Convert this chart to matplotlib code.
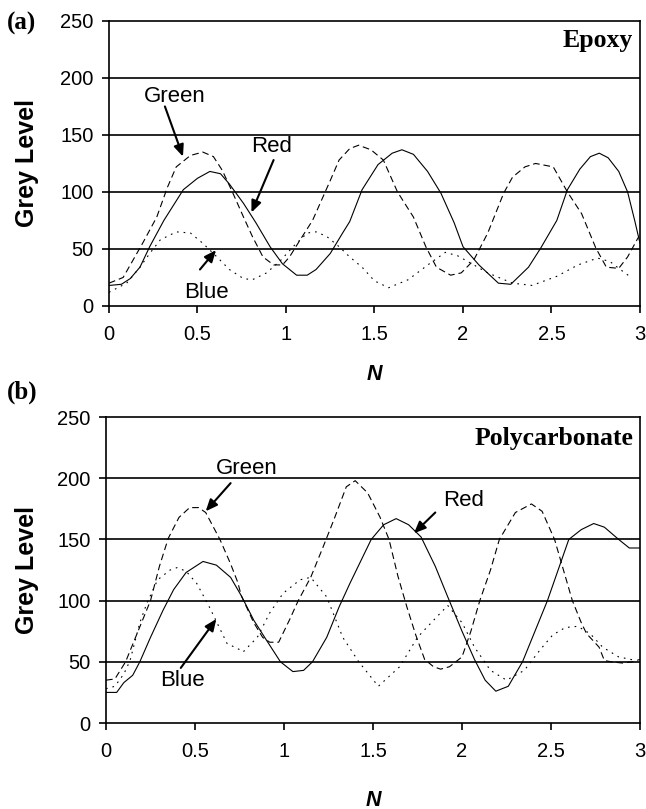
import matplotlib
matplotlib.use('Agg')
import matplotlib.pyplot as plt

# Panel (a) Epoxy
epoxy_red_n = [0, 0.07, 0.12, 0.175, 0.23, 0.31, 0.42, 0.50, 0.57, 0.63, 0.68, 0.76, 0.83, 0.91,
               0.98, 1.06, 1.12, 1.17, 1.25, 1.32, 1.36, 1.43, 1.52, 1.60, 1.655, 1.72, 1.80,
               1.875, 1.95, 2.0, 2.09, 2.20, 2.27, 2.37, 2.44, 2.53, 2.59, 2.66, 2.72, 2.77,
               2.82, 2.88, 2.93, 2.97, 3.0]
epoxy_red = [18, 19, 24, 34, 52, 75, 102, 112, 118, 116, 107, 90, 73, 52,
             37, 27, 27, 32, 46, 64, 74, 102, 124, 134, 137, 133, 118,
             99, 73, 52, 36, 20, 19, 34, 51, 75, 102, 120, 131, 134,
             130, 118, 100, 75, 55]

epoxy_green_n = [0, 0.08, 0.135, 0.19, 0.27, 0.33, 0.38, 0.46, 0.53, 0.59, 0.64, 0.70, 0.76,
                 0.81, 0.87, 0.93, 0.98, 1.02, 1.08, 1.15, 1.21, 1.25, 1.30, 1.36, 1.41, 1.48,
                 1.55, 1.63, 1.72, 1.79, 1.85, 1.93, 1.99, 2.06, 2.14, 2.23, 2.28, 2.35, 2.41,
                 2.51, 2.59, 2.67, 2.75, 2.81, 2.88, 2.93, 2.99]
epoxy_green = [20, 25, 40, 55, 78, 104, 122, 132, 135, 131, 119, 99, 78,
               61, 43, 36, 36, 43, 58, 75, 96, 110, 128, 138, 141, 137,
               128, 100, 78, 52, 34, 27, 29, 40, 64, 99, 113, 122, 125,
               122, 100, 81, 51, 34, 33, 43, 60]

epoxy_blue_n = [0, 0.10, 0.175, 0.23, 0.29, 0.38, 0.46, 0.53, 0.61, 0.68, 0.76, 0.81, 0.89,
                0.97, 1.04, 1.12, 1.17, 1.23, 1.30, 1.36, 1.43, 1.50, 1.58, 1.69, 1.81, 1.90,
                1.97, 2.05, 2.14, 2.28, 2.39, 2.53, 2.65, 2.76, 2.83, 2.88, 2.95]
epoxy_blue = [12, 20, 34, 46, 58, 65, 64, 55, 43, 32, 24, 23, 29,
              40, 52, 64, 65, 61, 52, 43, 34, 22, 16, 23, 37, 47,
              44, 37, 29, 20, 18, 26, 36, 42, 39, 33, 25]

# Panel (b) Polycarbonate
poly_red_n = [0, 0.06, 0.10, 0.15, 0.19, 0.25, 0.32, 0.38, 0.45, 0.545, 0.62, 0.70, 0.76, 0.83,
              0.90, 0.98, 1.05, 1.11, 1.16, 1.24, 1.31, 1.37, 1.49, 1.56, 1.63, 1.70, 1.77,
              1.85, 1.92, 2.0, 2.07, 2.13, 2.19, 2.26, 2.34, 2.48, 2.60, 2.67, 2.74, 2.80,
              2.88, 2.94, 3.0]
poly_red = [25, 25, 33, 39, 50, 70, 92, 109, 123, 132, 129, 119, 104, 84,
            68, 50, 42, 43, 50, 70, 95, 114, 150, 162, 167, 162, 152,
            128, 103, 75, 52, 35, 26, 30, 50, 100, 150, 158, 163, 160,
            150, 143, 143]

poly_green_n = [0, 0.05, 0.11, 0.18, 0.25, 0.30, 0.35, 0.41, 0.47, 0.52, 0.56, 0.64, 0.70,
                0.74, 0.76, 0.83, 0.88, 0.92, 0.97, 1.03, 1.08, 1.15, 1.22, 1.28, 1.35, 1.40,
                1.47, 1.54, 1.59, 1.64, 1.69, 1.74, 1.79, 1.84, 1.88, 1.93, 2.0, 2.05, 2.10,
                2.16, 2.21, 2.30, 2.39, 2.45, 2.52, 2.57, 2.62, 2.67, 2.70, 2.77, 2.80, 2.84,
                2.90, 2.96, 3.0]
poly_green = [35, 36, 50, 75, 100, 128, 151, 168, 176, 176, 172, 150, 130,
              115, 104, 82, 70, 66, 66, 84, 100, 119, 144, 166, 193, 198,
              188, 168, 150, 120, 95, 72, 52, 46, 44, 46, 54, 75, 100,
              125, 150, 172, 179, 173, 150, 125, 100, 82, 73, 62, 51, 50,
              49, 50, 52]

poly_blue_n = [0, 0.05, 0.10, 0.135, 0.19, 0.23, 0.29, 0.36, 0.40, 0.45, 0.51, 0.58, 0.68,
               0.75, 0.77, 0.85, 0.92, 0.995, 1.09, 1.15, 1.24, 1.33, 1.42, 1.53, 1.65, 1.75,
               1.86, 1.92, 2.0, 2.07, 2.16, 2.25, 2.35, 2.44, 2.51, 2.58, 2.65, 2.72, 2.79,
               2.88, 2.98]
poly_blue = [28, 30, 40, 51, 82, 98, 117, 125, 127, 124, 114, 95, 65,
             60, 58, 70, 90, 106, 117, 119, 103, 70, 50, 30, 46, 70,
             87, 96, 82, 62, 43, 35, 43, 60, 72, 78, 79, 73, 62,
             54, 51]

x_ticks = [0, 0.5, 1, 1.5, 2, 2.5, 3]
x_tick_labels = ['0', '0.5', '1', '1.5', '2', '2.5', '3']
y_ticks = [0, 50, 100, 150, 200, 250]

SANS = 'Liberation Sans'
SERIF = 'Liberation Serif'
TICK_SIZE = 14.5
NOTE_SIZE = 16
LW = 0.8
GREEN_DASH = (0, (6, 3.5))
BLUE_DOT = (0, (1.5, 4.5))


def draw_panel(ax, red, green, blue, material, notes, xlabel_y, ylabel_x):
    ax.plot(red[0], red[1], color='black', linewidth=LW, linestyle='-')
    ax.plot(green[0], green[1], color='black', linewidth=LW, linestyle=GREEN_DASH)
    ax.plot(blue[0], blue[1], color='black', linewidth=LW, linestyle=BLUE_DOT)

    # horizontal grid lines
    for v in y_ticks[1:-1]:
        ax.axhline(v, color='black', linewidth=1.2, zorder=1)

    ax.set_xlim(0, 3)
    ax.set_ylim(0, 250)
    ax.set_xticks(x_ticks)
    ax.set_xticklabels(x_tick_labels)
    ax.set_yticks(y_ticks)
    ax.tick_params(axis='both', direction='out', length=5, width=1.2,
                   labelsize=TICK_SIZE)
    ax.tick_params(axis='x', pad=9)
    ax.tick_params(axis='y', pad=6)
    for lab in ax.get_xticklabels() + ax.get_yticklabels():
        lab.set_fontfamily(SANS)
    for sp in ax.spines.values():
        sp.set_linewidth(1.2)

    ax.set_xlabel('N', fontsize=15.5, fontweight='bold', fontstyle='italic', family=SANS)
    ax.xaxis.set_label_coords(0.5, xlabel_y)
    ax.xaxis.label.set_va('center')
    ax.set_ylabel('Grey Level', fontsize=18, fontweight='bold', family=SANS)
    ax.yaxis.set_label_coords(ylabel_x, 0.5)
    ax.yaxis.label.set_va('center')

    ax.text(0.987, 0.93, material, transform=ax.transAxes, ha='right', va='center',
            fontsize=18.5, fontweight='bold', family=SERIF)

    for label, txt_xy, tail, head in notes:
        ax.text(txt_xy[0], txt_xy[1], label, ha='center', va='center',
                fontsize=NOTE_SIZE, family=SANS)
        ax.annotate('', xy=head, xytext=tail,
                    arrowprops=dict(arrowstyle='-|>,head_length=0.7,head_width=0.3',
                                    color='black', lw=1.5, shrinkA=0, shrinkB=0))


fig = plt.figure(figsize=(6.46, 8.09), dpi=100)
ax_a = fig.add_axes([0.1687, 0.6218, 0.822, 0.3523])
ax_b = fig.add_axes([0.1641, 0.1063, 0.8266, 0.3782])

notes_a = [('Green', (0.37, 184), (0.316, 175), (0.418, 131)),
           ('Red', (0.92, 140), (0.93, 128), (0.805, 82)),
           ('Blue', (0.55, 12), (0.514, 32), (0.605, 49))]
notes_b = [('Green', (0.79, 208), (0.70, 196), (0.56, 173)),
           ('Red', (2.01, 182), (1.85, 172), (1.73, 155)),
           ('Blue', (0.43, 35), (0.42, 45), (0.62, 85))]

draw_panel(ax_a, (epoxy_red_n, epoxy_red), (epoxy_green_n, epoxy_green),
           (epoxy_blue_n, epoxy_blue), 'Epoxy', notes_a, -0.242, -0.154)
draw_panel(ax_b, (poly_red_n, poly_red), (poly_green_n, poly_green),
           (poly_blue_n, poly_blue), 'Polycarbonate', notes_b, -0.252, -0.148)

fig.text(7 / 646, 1 - 23 / 809, '(a)', ha='left', va='center', fontsize=18,
         fontweight='bold', family=SERIF)
fig.text(7 / 646, 1 - 392 / 809, '(b)', ha='left', va='center', fontsize=18,
         fontweight='bold', family=SERIF)

fig.savefig('out.png', dpi=100)
plt.close(fig)
